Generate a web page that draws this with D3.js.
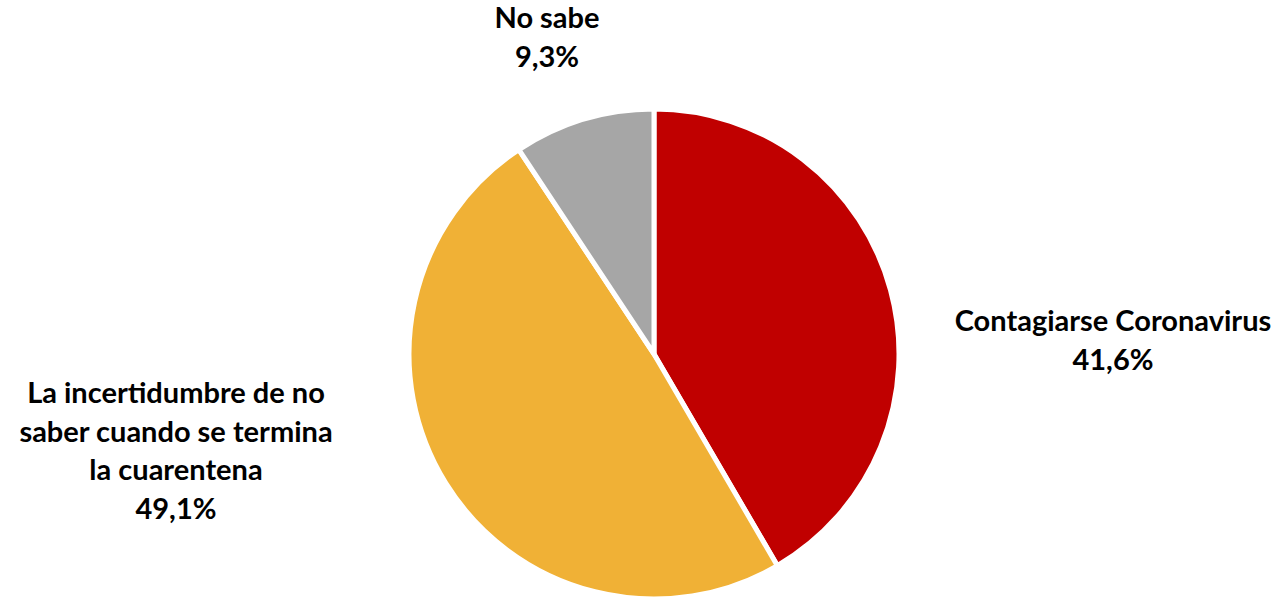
<!DOCTYPE html>
<html><head><meta charset="utf-8">
<script src="https://cdn.jsdelivr.net/npm/d3@7"></script>
<style>body{margin:0;background:#fff;} svg{display:block;}</style>
</head><body>
<svg id="c" width="1281" height="597"></svg>
<script>
const categories = ["Contagiarse Coronavirus", "La incertidumbre de no saber cuando se termina la cuarentena", "No sabe"];
const values = [41.6, 49.1, 9.3];
const valueLabels = ["41,6%", "49,1%", "9,3%"];
const labelLines = [["Contagiarse Coronavirus"], ["La incertidumbre de no", "saber cuando se termina", "la cuarentena"], ["No sabe"]];
const colors = ["#C00000", "#F0B136", "#A6A6A6"];

const svg = d3.select("#c");
const cx = 654, cy = 354, r = 245;
const data = categories.map((c, i) => ({ c, v: values[i], i }));
const pie = d3.pie().value(d => d.v).sort(null);
const arc = d3.arc().innerRadius(0).outerRadius(r);
const g = svg.append("g").attr("transform", `translate(${cx},${cy})`);
g.selectAll("path").data(pie(data)).join("path")
  .attr("d", arc).attr("fill", d => colors[d.data.i])
  .attr("stroke", "#fff").attr("stroke-width", 5).attr("stroke-linejoin", "miter");

const labelPos = [
  { x: 1113, y: 331 },
  { x: 176, y: 403 },
  { x: 547, y: 28 }
];
const lh = 38.7;
const font = "Lato, 'Open Sans', sans-serif";
data.forEach((d, i) => {
  const lines = labelLines[i].concat([valueLabels[i]]);
  const t = svg.append("text").attr("text-anchor", "middle")
    .attr("font-family", font).attr("font-weight", "bold").attr("font-size", 29).attr("fill", "#000");
  lines.forEach((l, k) => {
    t.append("tspan").attr("x", labelPos[i].x).attr("y", labelPos[i].y + k * lh).text(l);
  });
});
</script>
</body></html>
